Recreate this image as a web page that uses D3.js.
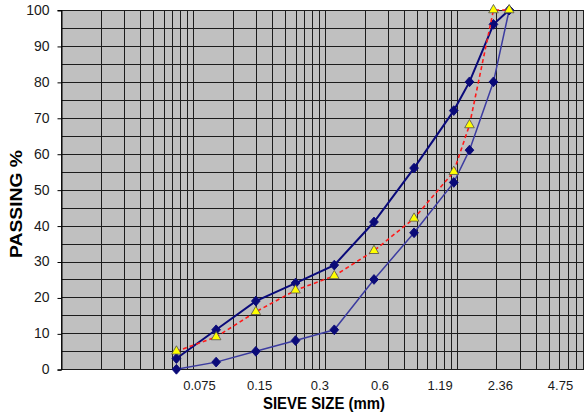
<!DOCTYPE html>
<html>
<head>
<meta charset="utf-8">
<script src="https://cdn.jsdelivr.net/npm/d3@7/dist/d3.min.js"></script>
<style>
  body { margin: 0; background: #fff; }
  svg { display: block; font-family: Arial, "Liberation Sans", sans-serif; }
</style>
</head>
<body>
<svg width="584" height="419"></svg>
<script>
// sieve sizes the points sit on (mm), passing % per curve
const sieveSizes = [0.075, 0.15, 0.3, 0.6, 1.18, 2.36, 4.75, 9.5, 12.5, 19, 25];
const upperLimit = [3, 11, 19, 24, 29, 41, 56, 72, 80, 96, 100];
const lowerLimit = [0, 2, 5, 8, 11, 25, 38, 52, 61, 80, 100];
const blend = [5, 9, 16, 22, 26, 33, 42, 55, 68, 100, 100];

// the labels under the axis (as printed on the original)
const xLabels = ["0.075", "0.15", "0.3", "0.6", "1.19", "2.36", "4.75"];
const yTicks = d3.range(0, 101, 10);
const yGrid = d3.range(0, 101, 5);

function run() {
    let svg = d3.select("svg");
    let width = +svg.attr("width");

    let x = d3.scaleLog().domain([0.01, 100]).range([61, 588.6]);
    let y = d3.scaleLinear().domain([0, 100]).range([369.3, 10]);
    // labels are spread evenly, not on the log positions
    let xl = d3.scalePoint().domain(xLabels).range([199, 560]);

    let crisp = v => Math.round(v) + 0.5;

    // grey plot area
    svg.append("rect")
      .attr("x", x(0.01))
      .attr("y", y(100))
      .attr("width", width - x(0.01))
      .attr("height", y(0) - y(100))
      .attr("fill", "#c0c0c0");

    // log grid: 1..9 of every decade
    svg.append("g")
      .selectAll("line")
      .data(x.ticks())
      .enter()
      .append("line")
      .attr("x1", d => crisp(x(d)))
      .attr("x2", d => crisp(x(d)))
      .attr("y1", y(100))
      .attr("y2", y(0))
      .attr("stroke", "#1c1c1c")
      .attr("stroke-width", 1);

    svg.append("g")
      .selectAll("line")
      .data(yGrid)
      .enter()
      .append("line")
      .attr("x1", x(0.01))
      .attr("x2", width)
      .attr("y1", d => crisp(y(d)))
      .attr("y2", d => crisp(y(d)))
      .attr("stroke", "#1c1c1c")
      .attr("stroke-width", 1);

    // y axis
    let yAxis = svg.append("g")
      .attr("transform", `translate(${crisp(x(0.01))},0)`)
      .call(d3.axisLeft(y).tickValues(yTicks).tickSize(4).tickPadding(8))
      .call(g => g.select(".domain").attr("stroke", "#000"));
    yAxis.selectAll(".tick line").attr("stroke", "#000").attr("transform", "translate(0,0.5)");
    yAxis.selectAll("text")
      .attr("font-size", 14)
      .attr("font-family", "Arial, 'Liberation Sans', sans-serif")
      .attr("fill", "#1a1a1a");

    // x labels
    let xAxis = svg.append("g")
      .attr("transform", `translate(0,${y(0)})`)
      .call(d3.axisBottom(xl).tickSize(0).tickPadding(11));
    xAxis.select(".domain").remove();
    xAxis.selectAll("text")
      .attr("font-size", 13)
      .attr("font-family", "Arial, 'Liberation Sans', sans-serif")
      .attr("fill", "#1a1a1a");

    // curves
    let line = d3.line()
      .x(d => x(d[0]))
      .y(d => y(d[1]));

    let series = [
      { vals: lowerLimit, color: "#3c3ca0", width: 1.5, dash: null, marker: "diamond" },
      { vals: upperLimit, color: "#0a0a7a", width: 2, dash: null, marker: "diamond" },
      { vals: blend, color: "#ff1a1a", width: 1.6, dash: "4,3", marker: "triangle" }
    ];

    series.forEach(s => {
      let pts = sieveSizes.map((v, i) => [v, s.vals[i]]);
      svg.append("path")
        .datum(pts)
        .attr("d", line)
        .attr("fill", "none")
        .attr("stroke", s.color)
        .attr("stroke-width", s.width)
        .attr("stroke-dasharray", s.dash);

      let sym = s.marker == "diamond"
        ? d3.symbol(d3.symbolSquare, 38)
        : d3.symbol(d3.symbolTriangle, 40);

      svg.append("g")
        .selectAll("path")
        .data(pts)
        .enter()
        .append("path")
        .attr("d", sym)
        .attr("transform", d => `translate(${x(d[0])},${y(d[1])})` + (s.marker == "diamond" ? " scale(1,1.12) rotate(45)" : ""))
        .attr("fill", s.marker == "diamond" ? "#0a0a78" : "#ffff00")
        .attr("stroke", s.marker == "diamond" ? "#0a0a78" : "#505050")
        .attr("stroke-width", 0.8);
    });

    // axis titles
    svg.append("text")
      .attr("x", 324)
      .attr("y", 409)
      .attr("text-anchor", "middle")
      .attr("font-size", 16)
      .attr("font-weight", "bold")
      .attr("textLength", 122)
      .attr("lengthAdjust", "spacingAndGlyphs")
      .text("SIEVE SIZE (mm)");

    svg.append("text")
      .attr("transform", "translate(22,204) rotate(-90)")
      .attr("text-anchor", "middle")
      .attr("font-size", 17)
      .attr("font-weight", "bold")
      .attr("textLength", 108)
      .attr("lengthAdjust", "spacingAndGlyphs")
      .text("PASSING %");
}

run();
</script>
</body>
</html>
